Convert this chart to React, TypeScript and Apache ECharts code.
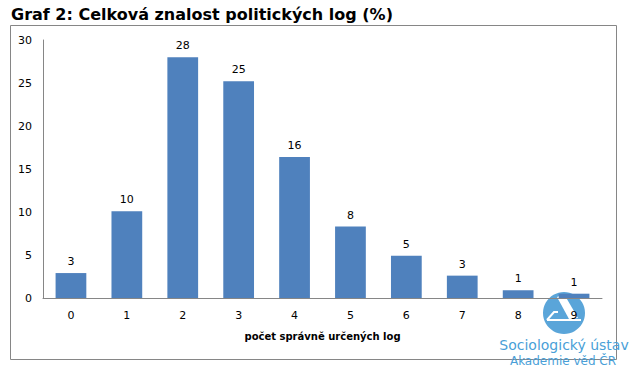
import React, { useEffect, useRef } from "react";
import * as echarts from "echarts";

const categories = ["0", "1", "2", "3", "4", "5", "6", "7", "8", "9"];
const values = [2.9, 10.1, 28.0, 25.2, 16.4, 8.3, 4.9, 2.6, 0.9, 0.5];
const yMin = 0;
const yMax = 30;
const yStep = 5;
const titleText = "Graf 2: Celková znalost politických log (%)";
const xAxisName = "počet správně určených log";
const logoLine1 = "Sociologický ústav";
const logoLine2 = "Akademie věd ČR";

const FONT = "DejaVu Sans";
const AXIS_GRAY = "#868686";
const LOGO_BLUE = "#5AA5D9";

export default function App() {
  const ref = useRef<HTMLDivElement>(null);

  useEffect(() => {
    if (!ref.current) return;
    const chart = echarts.init(ref.current, null, { renderer: "svg" });
    chart.setOption({
      animation: false,
      backgroundColor: "#ffffff",
      textStyle: { fontFamily: FONT },
      title: {
        text: titleText,
        left: 6,
        top: 1,
        textStyle: { fontFamily: FONT, fontSize: 16, fontWeight: "bold", color: "#000" },
      },
      grid: { left: 43, right: 32, top: 40, bottom: 80, containLabel: false },
      xAxis: {
        type: "category",
        data: categories,
        name: xAxisName,
        nameLocation: "middle",
        nameGap: 33,
        nameTextStyle: { fontFamily: FONT, fontSize: 10, fontWeight: "bold", color: "#000" },
        axisLine: { lineStyle: { color: AXIS_GRAY, width: 1 } },
        axisTick: { show: false },
        axisLabel: { margin: 12, fontSize: 11, color: "#000", fontFamily: FONT },
      },
      yAxis: {
        type: "value",
        min: yMin,
        max: yMax,
        interval: yStep,
        axisLine: { show: true, lineStyle: { color: AXIS_GRAY, width: 1 } },
        axisTick: { show: false },
        splitLine: { show: false },
        axisLabel: { margin: 11, fontSize: 11, color: "#000", fontFamily: FONT },
      },
      series: [
        {
          type: "bar",
          data: values,
          barWidth: "55%",
          itemStyle: { color: "#4F81BD" },
          z: 5,
          label: {
            show: true,
            position: "top",
            distance: 6,
            fontSize: 11,
            color: "#000",
            fontFamily: FONT,
            formatter: (p: any) => String(Math.round(p.value)),
          },
        },
      ],
      graphic: [
        {
          type: "rect",
          z: -10,
          silent: true,
          shape: { x: 10.5, y: 25.5, width: 606, height: 334 },
          style: { fill: "none", stroke: AXIS_GRAY, lineWidth: 1 },
        },
        {
          type: "group",
          z: 0,
          silent: true,
          children: [
            { type: "circle", shape: { cx: 564, cy: 313, r: 21 }, style: { fill: LOGO_BLUE } },
            {
              type: "polygon",
              shape: { points: [[557, 297], [564, 294], [578, 318], [569, 319]] },
              style: { fill: "#fff" },
            },
            {
              type: "polyline",
              shape: { points: [[547, 320], [554, 312], [558, 312]] },
              style: { stroke: "#fff", lineWidth: 2, fill: "none" },
            },
            {
              type: "line",
              shape: { x1: 547, y1: 320, x2: 581, y2: 320 },
              style: { stroke: "#fff", lineWidth: 2 },
            },
          ],
        },
        {
          type: "text",
          z: 20,
          silent: true,
          x: 564,
          y: 345,
          style: {
            text: logoLine1,
            fill: "#4A9FD8",
            font: `14px '${FONT}'`,
            align: "center",
            verticalAlign: "middle",
          },
        },
        {
          type: "text",
          z: 20,
          silent: true,
          x: 563,
          y: 361,
          style: {
            text: logoLine2,
            fill: "#4A9FD8",
            font: `12px '${FONT}'`,
            align: "center",
            verticalAlign: "middle",
          },
        },
      ],
    });
    return () => chart.dispose();
  }, []);

  return (
    <div
      ref={ref}
      style={{ position: "absolute", left: 0, top: 0, width: 634, height: 378 }}
    />
  );
}
